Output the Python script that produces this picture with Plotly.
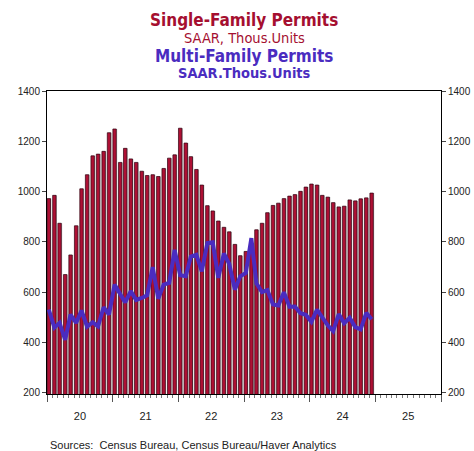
import pandas as pd
import plotly.graph_objects as go

# ---- data ----
months = pd.date_range("2020-01-01", periods=60, freq="MS") + pd.Timedelta(days=10)

single_family = [972, 985, 874, 670, 748, 864, 1011, 1067, 1142, 1149, 1160, 1234,
                 1249, 1116, 1172, 1130, 1116, 1081, 1064, 1067, 1060, 1092, 1133, 1146,
                 1252, 1193, 1139, 1088, 1026, 944, 923, 883, 858, 840, 790, 745,
                 762, 795, 848, 874, 916, 945, 954, 972, 982, 988, 1001, 1018,
                 1030, 1026, 985, 978, 956, 939, 942, 967, 963, 971, 975, 994]

multi_family = [531, 459, 478, 410, 511, 478, 527, 463, 480, 464, 540, 511,
                630, 594, 559, 604, 569, 577, 587, 700, 574, 630, 637, 768,
                667, 663, 742, 749, 683, 795, 798, 657, 754, 712, 610, 663,
                676, 815, 635, 600, 608, 551, 547, 600, 542, 543, 516, 510,
                482, 531, 500, 468, 445, 513, 476, 498, 461, 452, 518, 492]

y_ticks = [200, 400, 600, 800, 1000, 1200, 1400]

RED = "#a50f30"
BAR_RED = "#ae1034"
BLUE = "#4a2cc0"
FONT = "Liberation Sans, Arial, sans-serif"
NARROW = "DejaVu Sans Condensed, Liberation Sans Narrow, Liberation Sans, Arial, sans-serif"

DAY_MS = 86400000
bar_w = 19 * DAY_MS

W, H = 474, 451
L = 47
T = 90.5
R = W - 441
B = H - 394.5
plot_h = H - T - B


def py(pix):
    """window pixel row -> paper y"""
    return 1 + (T - pix) / plot_h


fig = go.Figure()

# shadow behind bars
fig.add_trace(go.Bar(
    x=months, y=single_family, width=bar_w, offset=-bar_w / 2 + 5 * DAY_MS,
    marker=dict(color="#bdbdbd", line=dict(width=0)),
    hoverinfo="skip", showlegend=False,
))
fig.add_trace(go.Bar(
    x=months, y=single_family, width=bar_w, offset=-bar_w / 2,
    marker=dict(color=BAR_RED, line=dict(color="#2e0010", width=0.7)),
    name="Single-Family Permits", showlegend=False,
))
fig.add_trace(go.Scatter(
    x=months, y=multi_family, mode="lines", yaxis="y2",
    line=dict(color=BLUE, width=4),
    name="Multi-Family Permits", showlegend=False,
))

yax = dict(
    range=[195, 1400], tickvals=y_ticks, ticks="outside", ticklen=4,
    tickcolor="#444", showgrid=False, zeroline=False, showline=True,
    linecolor="black", linewidth=1, automargin=False,
    tickfont=dict(family=FONT, size=10, color="#222"),
)

fig.update_layout(
    width=W, height=H,
    margin=dict(l=L, r=R, t=T, b=B, autoexpand=False),
    paper_bgcolor="white", plot_bgcolor="white",
    barmode="overlay",
    xaxis=dict(
        range=["2020-01-01", "2026-01-01"], type="date",
        dtick="M12", tick0="2020-01-01", tickformat="%y",
        ticklabelmode="period", ticks="outside", ticklen=7, tickcolor="#555",
        ticklabelstandoff=5,
        minor=dict(dtick="M1", ticks="outside", ticklen=3, tickcolor="#777"),
        showgrid=False, zeroline=False, showline=True, linecolor="black",
        linewidth=1, mirror=True, automargin=False,
        tickfont=dict(family=FONT, size=11, color="#222"),
    ),
    yaxis=dict(**yax, side="left", mirror=True),
    yaxis2=dict(**yax, side="right", overlaying="y"),
    annotations=[
        dict(text="<b>Single-Family Permits</b>", xref="paper", yref="paper",
             x=0.5, y=py(19), xanchor="center", yanchor="middle", showarrow=False,
             font=dict(family=NARROW, size=17, color=RED)),
        dict(text="SAAR, Thous.Units", xref="paper", yref="paper",
             x=0.5, y=py(37), xanchor="center", yanchor="middle", showarrow=False,
             font=dict(family=NARROW, size=14.5, color=RED)),
        dict(text="<b>Multi-Family Permits</b>", xref="paper", yref="paper",
             x=0.5, y=py(55.5), xanchor="center", yanchor="middle", showarrow=False,
             font=dict(family=NARROW, size=17, color=BLUE)),
        dict(text="<b>SAAR.Thous.Units</b>", xref="paper", yref="paper",
             x=0.5, y=py(72), xanchor="center", yanchor="middle", showarrow=False,
             font=dict(family=NARROW, size=14.5, color=BLUE)),
        dict(text="Sources:  Census Bureau, Census Bureau/Haver Analytics",
             xref="paper", yref="paper", x=0.003, y=py(446),
             xanchor="left", yanchor="middle", showarrow=False,
             font=dict(family=FONT, size=11, color="#222")),
    ],
)

fig.write_html(
    "out.html",
    config={"displayModeBar": False},
    post_script="document.body.style.margin='0';document.body.style.overflow='hidden';",
)
